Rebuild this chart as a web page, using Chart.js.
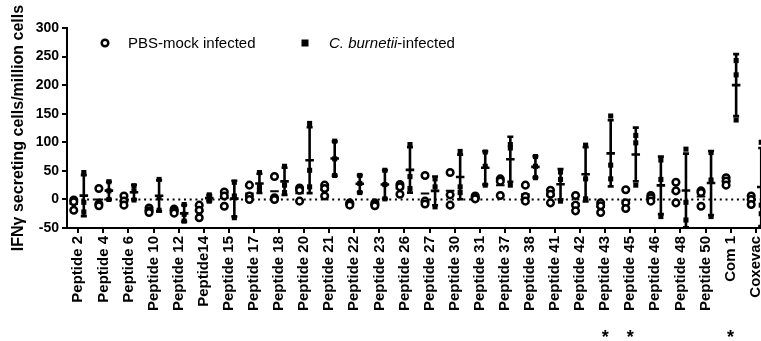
<!DOCTYPE html>
<html>
<head>
<meta charset="utf-8">
<script src="https://cdn.jsdelivr.net/npm/chart.js@4.4.0/dist/chart.umd.min.js"></script>
<style>
html, body { margin: 0; padding: 0; background: #fff; overflow: hidden; }
#wrap { position: relative; width: 800px; height: 341px; }
</style>
</head>
<body>
<div id="wrap"><canvas id="chart-ifn"></canvas></div>
<script>
var categories = ['Peptide 2', 'Peptide 4', 'Peptide 6', 'Peptide 10', 'Peptide 12', 'Peptide14',
    'Peptide 15', 'Peptide 17', 'Peptide 18', 'Peptide 20', 'Peptide 21', 'Peptide 22', 'Peptide 23',
    'Peptide 26', 'Peptide 27', 'Peptide 30', 'Peptide 31', 'Peptide 37', 'Peptide 38', 'Peptide 41',
    'Peptide 42', 'Peptide 43', 'Peptide 45', 'Peptide 46', 'Peptide 48', 'Peptide 50', 'Com 1', 'Coxevac'];

// PBS-mock infected (open circles)
var pbsMock = [
    [-1, -4, -19], [19, -8, -11], [6, -3, -10], [-15, -20, -23], [-17, -20, -24], [-10, -19, -32],
    [13, 6, -12], [25, 6, 0], [40, 3, 0], [20, 16, -3], [25, 19, 6], [-6, -8, -10], [-6, -9, -11],
    [26, 22, 9], [42, -3, -8], [47, 8, -10], [6, 3, 1], [36, 32, 7], [25, 5, -3], [16, 9, -6],
    [7, -10, -20], [-6, -11, -23], [17, -6, -16], [7, 3, -3], [30, 15, -6], [15, 12, -12],
    [38, 32, 25], [6, 0, -9]
];

// C. burnetii-infected (filled squares)
var burnetii = [
    [47, -5, -22], [31, 15, 0], [24, 15, -1], [35, 3, -19], [-9, -26, -38], [8, 2, -3],
    [30, 6, -32], [47, 22, 15], [58, 25, 12], [133, 51, 22], [102, 71, 42], [42, 28, 12], [51, 26, 1],
    [96, 40, 19], [36, 22, -13], [84, 22, 12], [83, 58, 25], [96, 90, 25], [75, 58, 38], [48, 35, -3],
    [95, 36, 1], [146, 60, 36], [112, 99, 25], [69, 35, -30], [88, -5, -36], [82, 34, -30],
    [243, 218, 139], [100, -10, -25]
];

var starred = ['Peptide 43', 'Peptide 45', 'Com 1'];
var yMin = -50, yMax = 300, yStep = 50;

var FONT = '"Liberation Sans", Arial, sans-serif';
var pbsShift = -0.18, cbShift = 0.22;

function mean(a) { return a.reduce(function(s, v) { return s + v; }, 0) / a.length; }
function sd(a) {
    var m = mean(a);
    return Math.sqrt(a.reduce(function(s, v) { return s + (v - m) * (v - m); }, 0) / (a.length - 1));
}

function points(groups, shift) {
    var out = [];
    groups.forEach(function(g, i) {
        g.forEach(function(v) { out.push({x: i + shift, y: v}); });
    });
    return out;
}

// mean line (and optional SD bar with caps), broken by null gaps
function summaryLines(groups, shift, withSd) {
    var out = [];
    groups.forEach(function(g, i) {
        var x = i + shift, m = mean(g);
        out.push({x: x - 0.17, y: m}, {x: x + 0.17, y: m}, {x: x, y: null});
        if (withSd) {
            var s = sd(g);
            out.push({x: x, y: m - s}, {x: x, y: m + s}, {x: x, y: null});
            out.push({x: x - 0.12, y: m + s}, {x: x + 0.12, y: m + s}, {x: x, y: null});
            out.push({x: x - 0.12, y: m - s}, {x: x + 0.12, y: m - s}, {x: x, y: null});
        }
    });
    return out;
}

var extras = {
    id: 'extras',
    beforeDatasetsDraw: function(chart) {
        var c = chart.ctx, a = chart.chartArea, y0 = chart.scales.y.getPixelForValue(0);
        c.save();
        c.strokeStyle = '#000';
        c.lineWidth = 2;
        c.setLineDash([2, 3.7]);
        c.beginPath();
        c.moveTo(a.left + 3, y0);
        c.lineTo(a.right, y0);
        c.stroke();
        c.restore();
    },
    afterDraw: function(chart) {
        var c = chart.ctx, a = chart.chartArea, xs = chart.scales.x;
        c.save();
        // legend
        var ly = a.top + 15;
        c.lineWidth = 2.5;
        c.strokeStyle = '#000';
        c.fillStyle = '#fff';
        c.beginPath();
        c.arc(a.left + 38, ly, 3.3, 0, Math.PI * 2);
        c.fill();
        c.stroke();
        c.fillStyle = '#000';
        c.fillRect(a.left + 234.5, ly - 3.5, 7, 7);
        c.textBaseline = 'middle';
        c.font = '15px ' + FONT;
        c.fillText('PBS-mock infected', a.left + 61, ly + 1);
        c.font = 'italic 15px ' + FONT;
        c.fillText('C. burnetii', a.left + 262, ly + 1);
        var w = c.measureText('C. burnetii').width;
        c.font = '15px ' + FONT;
        c.fillText('-infected', a.left + 262 + w, ly + 1);
        // significance marks
        c.font = 'bold 18px ' + FONT;
        c.textAlign = 'center';
        c.textBaseline = 'alphabetic';
        starred.forEach(function(name) {
            var i = categories.indexOf(name);
            c.fillText('*', xs.getPixelForValue(i), chart.height + 2);
        });
        c.restore();
    }
};

var ctx = document.getElementById('chart-ifn');
var ifnChart = new Chart(ctx, {
    type: 'scatter',
    data: {
        datasets: [
            {
                label: 'PBS-mock infected',
                data: points(pbsMock, pbsShift),
                pointStyle: 'circle',
                pointRadius: 3.3,
                pointBorderWidth: 2.5,
                pointBorderColor: '#000',
                pointBackgroundColor: '#fff'
            },
            {
                label: 'C. burnetii-infected',
                data: points(burnetii, cbShift),
                pointStyle: 'rect',
                pointRadius: 3.6,
                pointBorderWidth: 0,
                pointBackgroundColor: '#000'
            },
            {
                label: 'PBS mean',
                data: summaryLines(pbsMock, pbsShift, false),
                showLine: true,
                spanGaps: false,
                pointRadius: 0,
                borderColor: '#000',
                borderWidth: 2
            },
            {
                label: 'C. burnetii mean SD',
                data: summaryLines(burnetii, cbShift, true),
                showLine: true,
                spanGaps: false,
                pointRadius: 0,
                borderColor: '#000',
                borderWidth: 2.6
            }
        ]
    },
    options: {
        animation: false,
        responsive: true,
        maintainAspectRatio: false,
        layout: { padding: { top: 28, right: 33, left: 0, bottom: 0 } },
        plugins: { legend: { display: false }, tooltip: { enabled: false } },
        scales: {
            x: {
                type: 'linear',
                min: -0.45,
                max: categories.length - 0.55,
                afterBuildTicks: function(s) {
                    s.ticks = categories.map(function(c, i) { return {value: i}; });
                },
                afterFit: function(s) { s.height = 113; },
                grid: { drawOnChartArea: false, color: '#000', lineWidth: 2, tickLength: 5 },
                border: { color: '#000', width: 2 },
                ticks: {
                    autoSkip: false,
                    minRotation: 90,
                    maxRotation: 90,
                    padding: 3,
                    color: '#000',
                    font: { family: FONT, size: 15, weight: 'bold' },
                    callback: function(v) { return categories[v]; }
                }
            },
            y: {
                min: yMin,
                max: yMax,
                afterFit: function(s) { s.width = 67; },
                grid: { drawOnChartArea: false, color: '#000', lineWidth: 2, tickLength: 5 },
                border: { color: '#000', width: 2 },
                ticks: {
                    stepSize: yStep,
                    padding: 3,
                    color: '#000',
                    font: { family: FONT, size: 14, weight: 'bold' }
                },
                title: {
                    display: true,
                    text: 'IFNγ secreting cells/million cells',
                    color: '#000',
                    padding: { top: 9, bottom: 0 },
                    font: { family: FONT, size: 16, weight: 'bold' }
                }
            }
        }
    },
    plugins: [extras]
});
</script>
</body>
</html>
